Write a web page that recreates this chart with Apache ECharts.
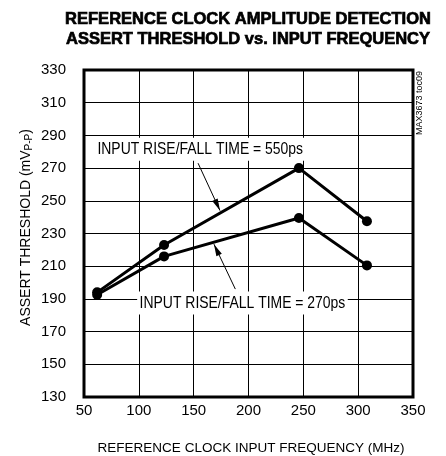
<!DOCTYPE html>
<html><head><meta charset="utf-8">
<script src="https://cdn.jsdelivr.net/npm/echarts@6/dist/echarts.min.js"></script>
<style>html,body{margin:0;padding:0;background:#fff}#c{width:446px;height:456px}</style>
</head><body><div id="c"></div>
<script>
const frequencies = [62, 123, 246, 308];
const rise550 = [194, 223, 270, 237.5];
const rise270 = [192.5, 216, 239.5, 210.5];
const xTicks = [50, 350, 50];
const yTicks = [130, 330, 20];
const label550 = { text: 'INPUT RISE/FALL TIME = 550ps', at: [156, 281.5], from: [154, 273], to: [174, 244] };
const label270 = { text: 'INPUT RISE/FALL TIME = 270ps', at: [194.5, 187.5], from: [188, 196], to: [168.5, 223.5] };

const FONT = '"Liberation Sans",Arial,sans-serif';
const chart = echarts.init(document.getElementById('c'), null, {renderer: 'canvas'});
function pairs(ys) { return frequencies.map((x, i) => [x, ys[i]]); }
const lineSeries = (name, ys) => ({
  name, type: 'line', data: pairs(ys), symbol: 'circle', symbolSize: 10,
  lineStyle: {color: '#000', width: 3}, itemStyle: {color: '#000'}, z: 5, animation: false
});
chart.setOption({
  animation: false,
  title: {
    text: 'REFERENCE CLOCK AMPLITUDE DETECTION\nASSERT THRESHOLD vs. INPUT FREQUENCY',
    left: 248, top: 9, textAlign: 'center', padding: 0,
    textStyle: {fontFamily: FONT, fontWeight: 'bold', fontSize: 16.5, lineHeight: 20, color: '#000',
      textBorderColor: '#000', textBorderWidth: 0.7}
  },
  grid: {left: 84, right: 33, top: 70, bottom: 59, containLabel: false, outerBoundsMode: 'none'},
  xAxis: {
    type: 'value', min: xTicks[0], max: xTicks[1], interval: xTicks[2],
    name: 'REFERENCE CLOCK INPUT FREQUENCY (MHz)', nameLocation: 'middle', nameGap: 44, nameMoveOverlap: false,
    nameTextStyle: {fontFamily: FONT, fontSize: 13.5, color: '#000', padding: [0, 0, 0, 5]},
    axisLine: {show: false}, axisTick: {show: false},
    axisLabel: {fontFamily: FONT, fontSize: 15, color: '#000', margin: 6},
    splitLine: {lineStyle: {color: '#000', width: 1}}
  },
  yAxis: {
    type: 'value', min: yTicks[0], max: yTicks[1], interval: yTicks[2],
    name: '{a|ASSERT THRESHOLD (mV}{s|P-P}{a|)}', nameLocation: 'middle', nameGap: 50, nameRotate: 90,
    nameMoveOverlap: false,
    nameTextStyle: {padding: [0, 0, 0, 12], rich: {
      a: {fontFamily: FONT, fontSize: 14, color: '#000'},
      s: {fontFamily: FONT, fontSize: 10, color: '#000', verticalAlign: 'bottom', padding: [6, 0, 0, 0]}
    }},
    axisLine: {show: false}, axisTick: {show: false},
    axisLabel: {fontFamily: FONT, fontSize: 15, color: '#000', margin: 18},
    splitLine: {lineStyle: {color: '#000', width: 1}}
  },
  series: [lineSeries('550ps', rise550), lineSeries('270ps', rise270)]
});

function draw() {
  const g = chart.getModel().getComponent('grid').coordinateSystem.getRect();
  const P = p => chart.convertToPixel({gridIndex: 0}, p);
  const els = [
    {type: 'rect', shape: {x: g.x, y: g.y, width: g.width, height: g.height},
     style: {fill: 'none', stroke: '#000', lineWidth: 3}, z: 10},
    {type: 'text', x: g.x + g.width + 2, y: g.y + 65, rotation: Math.PI / 2,
     style: {text: 'MAX3673 toc09', font: '9px ' + FONT, fill: '#000', textAlign: 'left', textVerticalAlign: 'top'}, z: 10}
  ];
  [label550, label270].forEach(l => {
    const c = P(l.at), a = P(l.from), b = P(l.to);
    els.push({type: 'text', x: c[0], y: c[1], z: 8, scaleX: 0.82,
      style: {text: l.text, font: '17px ' + FONT, fill: '#000', align: 'center', verticalAlign: 'middle',
        backgroundColor: '#fff', padding: [3, 3, 3, 3]}});
    els.push({type: 'line', shape: {x1: a[0], y1: a[1], x2: b[0], y2: b[1]}, style: {stroke: '#000', lineWidth: 1}, z: 8});
    const ang = Math.atan2(b[1] - a[1], b[0] - a[0]), L = 12, W = 3;
    const bx = b[0] - L * Math.cos(ang), by = b[1] - L * Math.sin(ang);
    els.push({type: 'polygon', shape: {points: [
      [b[0], b[1]],
      [bx - W * Math.sin(ang), by + W * Math.cos(ang)],
      [bx + W * Math.sin(ang), by - W * Math.cos(ang)]
    ]}, style: {fill: '#000'}, z: 8});
  });
  chart.setOption({graphic: els});
}
draw();
</script></body></html>
